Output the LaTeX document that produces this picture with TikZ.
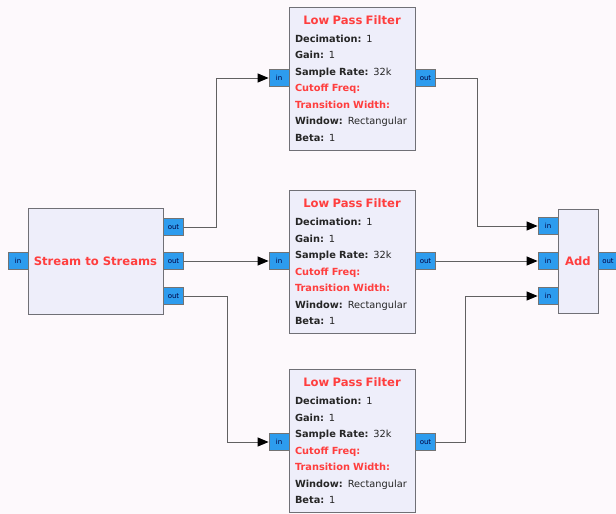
\documentclass[tikz,border=0pt]{standalone}
\usepackage{fontspec}
\setmainfont{DejaVu Sans}
\usetikzlibrary{arrows.meta}
\usepackage{xcolor}
\definecolor{bgpaper}{RGB}{253,249,252}
\definecolor{blockfill}{RGB}{238,238,250}
\definecolor{blockline}{RGB}{112,112,118}
\definecolor{portfill}{RGB}{45,156,238}
\definecolor{titlered}{RGB}{255,62,62}
\newcommand{\blocktitle}[1]{{\fontsize{11.6}{13}\selectfont\bfseries\color{titlered}#1}}
\newcommand{\lpfparams}{%
\makebox[114pt][c]{\blocktitle{Low Pass Filter}}\\[1.5pt]
\textbf{Decimation:} 1\\
\textbf{Gain:} 1\\
\textbf{Sample Rate:} 32k\\
{\color{titlered}\textbf{Cutoff Freq:}}\\
{\color{titlered}\textbf{Transition Width:}}\\
\textbf{Window:} Rectangular\\
\textbf{Beta:} 1}

\begin{document}
\begin{tikzpicture}[x=1pt,y=-1pt,line cap=round,
  block/.style={draw=blockline,fill=blockfill,line width=1pt,inner sep=0pt},
  lpf/.style={block,minimum width=126,minimum height=143,text width=114,align=left,
    inner xsep=6pt,font=\fontsize{9.8}{16.5}\selectfont,text=black!85},
  port/.style={draw=black!55,fill=portfill,line width=0.8pt,minimum width=20,minimum height=17,
    inner sep=0pt,font=\fontsize{7}{8}\selectfont,text=blue!25!black},
  wire/.style={draw=black!62,line width=1pt,-{Triangle[length=11pt,width=9pt,color=black]}}]
\fill[bgpaper] (0,0) rectangle (616,514);
\useasboundingbox (0,0) rectangle (616,514);
% stream to streams
\node[block,minimum width=135,minimum height=106] (s2s) at (95.5,261) {\blocktitle{Stream to Streams}};
\node[port] (s2sin) at (18,261) {in};
\node[port] (s2so1) at (173.5,227) {out};
\node[port] (s2so2) at (173.5,261) {out};
\node[port] (s2so3) at (173.5,296) {out};
% low pass filters
\node[lpf] (lpfa) at (352,78.5) {\lpfparams};
\node[port] (lpfain) at (279,78) {in};
\node[port] (lpfaout) at (425.5,78) {out};
\node[lpf] (lpfb) at (352,262) {\lpfparams};
\node[port] (lpfbin) at (279,261) {in};
\node[port] (lpfbout) at (425.5,261) {out};
\node[lpf] (lpfc) at (352,441) {\lpfparams};
\node[port] (lpfcin) at (279,442) {in};
\node[port] (lpfcout) at (425.5,442) {out};
% add
\node[block,minimum width=40,minimum height=104] (add) at (578,261) {\blocktitle{Add}};
\node[port] (addi1) at (548,226) {in};
\node[port] (addi2) at (548,261) {in};
\node[port] (addi3) at (548,296) {in};
\node[port] (addout) at (608,261) {out};
% connections
\draw[wire] (s2so1.east) -- ++(33,0) |- (lpfain.west);
\draw[wire] (s2so2.east) -- (lpfbin.west);
\draw[wire] (s2so3.east) -- ++(44,0) |- (lpfcin.west);
\draw[wire] (lpfaout.east) -- ++(42,0) |- (addi1.west);
\draw[wire] (lpfbout.east) -- (addi2.west);
\draw[wire] (lpfcout.east) -- ++(30,0) |- (addi3.west);
\end{tikzpicture}
\end{document}
